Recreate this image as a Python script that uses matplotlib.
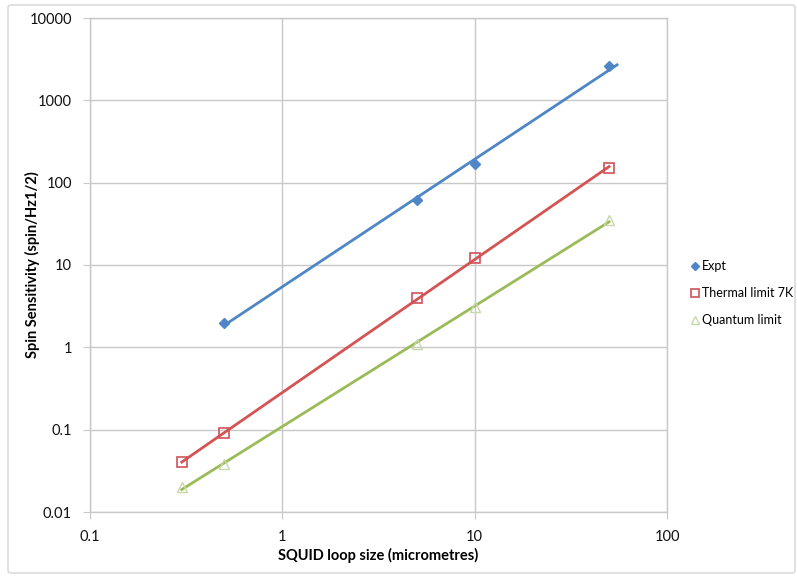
import numpy as np
import matplotlib
matplotlib.use("Agg")
import matplotlib.pyplot as plt
from matplotlib.patches import FancyBboxPatch

plt.rcParams['font.family'] = ['Lato', 'DejaVu Sans']

# Data
x_expt = [0.5, 5, 10, 50]
y_expt = [2.0, 62, 170, 2600]
x_therm = [0.3, 0.5, 5, 10, 50]
y_therm = [0.04, 0.09, 4.0, 12, 150]
x_quant = [0.3, 0.5, 5, 10, 50]
y_quant = [0.02, 0.038, 1.1, 3.1, 35]
series_names = ["Expt", "Thermal limit 7K", "Quantum limit"]
x_ticks = [0.1, 1, 10, 100]
x_ticklabels = ["0.1", "1", "10", "100"]
y_ticks = [0.01, 0.1, 1, 10, 100, 1000, 10000]
y_ticklabels = ["0.01", "0.1", "1", "10", "100", "1000", "10000"]

W, H = 797, 577
fig = plt.figure(figsize=(W / 100, H / 100), dpi=100)
ax = fig.add_axes([90 / W, (H - 512) / H, (667 - 90) / W, (512 - 18) / H])

# Outer border
fig.patches.append(FancyBboxPatch((8 / W, 4 / H), (795 - 8) / W, (572 - 4) / H,
                                  boxstyle="round,pad=0,rounding_size=0.004",
                                  transform=fig.transFigure, fill=False,
                                  edgecolor="#d4d4d4", linewidth=1.0))

blue = "#4F86C6"
red = "#D45454"
green = "#9BBB59"

def trend(xs, ys, ext=1.0):
    lx, ly = np.log10(xs), np.log10(ys)
    m, c = np.polyfit(lx, ly, 1)
    xx = np.logspace(lx.min(), lx.max() + np.log10(ext), 50)
    return xx, 10 ** (m * np.log10(xx) + c)

for xs, ys, col, ext in [(x_expt, y_expt, blue, 1.1),
                         (x_therm, y_therm, red, 1.0),
                         (x_quant, y_quant, green, 1.0)]:
    xx, yy = trend(xs, ys, ext)
    ax.plot(xx, yy, color=col, lw=2.0, zorder=3)

ax.plot(x_expt, y_expt, ls="none", marker="D", ms=5, mfc=blue, mec=blue,
        label=series_names[0], zorder=4)
ax.plot(x_therm, y_therm, ls="none", marker="s", ms=7, mfc="none", mec="#D0505A",
        mew=1.2, label=series_names[1], zorder=4)
ax.plot(x_quant, y_quant, ls="none", marker="^", ms=7, mfc="none", mec="#C8D8A8",
        mew=1.0, label=series_names[2], zorder=4)

ax.set_xscale("log")
ax.set_yscale("log")
ax.set_xlim(0.1, 100)
ax.set_ylim(0.01, 10000)
ax.set_xticks(x_ticks)
ax.set_xticklabels(x_ticklabels)
ax.set_yticks(y_ticks)
ax.set_yticklabels(y_ticklabels)
ax.minorticks_off()
ax.grid(True, color="#c8c8c8", lw=1.0)
ax.set_axisbelow(True)
for s in ax.spines.values():
    s.set_color("#c8c8c8")
    s.set_linewidth(1.0)
ax.tick_params(direction="out", length=5, color="#c8c8c8", labelsize=10.5,
               labelcolor="#111111", pad=8)

ax.set_xlabel("SQUID loop size (micrometres)", fontsize=10.5, fontweight="bold")
ax.set_ylabel("Spin Sensitivity (spin/Hz1/2)", fontsize=10.5, fontweight="bold")
ax.xaxis.set_label_coords(0.5, (512 - 548) / 494)
ax.yaxis.set_label_coords((40 - 90) / 577, 0.5)

leg = fig.legend(loc="center left", bbox_to_anchor=(692 / W, 1 - 293 / H),
                 frameon=False, fontsize=9, handlelength=0.4, handletextpad=0.4,
                 labelspacing=1.2, borderaxespad=0, borderpad=0, markerscale=0.8)

fig.savefig("out.png", dpi=100)
